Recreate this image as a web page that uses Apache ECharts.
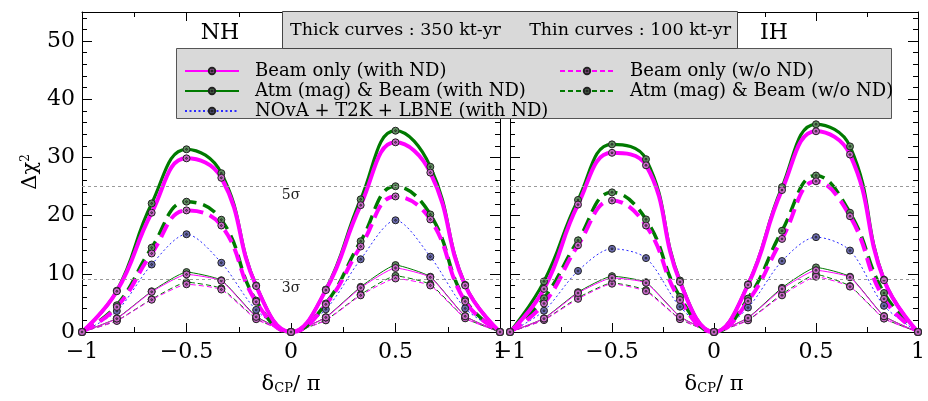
<!DOCTYPE html>
<html><head><meta charset="utf-8">
<script src="https://cdn.jsdelivr.net/npm/echarts@6/dist/echarts.min.js"></script>
<style>html,body{margin:0;padding:0;background:#fff}#c{width:928px;height:401px}</style>
</head><body><div id="c"></div>
<script>
// delta_CP / pi sample points (every pi/6)
const deltaCP = [-1, -5/6, -2/3, -1/2, -1/3, -1/6, 0, 1/6, 1/3, 1/2, 2/3, 5/6, 1];
const xTicks = [-1, -0.5, 0, 0.5, 1];
const yTicks = [0, 10, 20, 30, 40, 50];

// NH panel
const nhBeamND350   = [0, 7.0, 20.5, 29.85, 26.5, 7.9, 0, 7.2, 21.8, 32.6, 27.4, 8.0, 0];
const nhAtmND350    = [0, 7.1, 22.1, 31.4, 27.3, 8.0, 0, 7.3, 22.8, 34.6, 28.4, 8.1, 0];
const nhBeamNoND350 = [0, 4.3, 13.5, 20.9, 18.3, 5.2, 0, 4.75, 14.7, 23.3, 19.35, 5.25, 0];
const nhAtmNoND350  = [0, 4.6, 14.5, 22.4, 19.3, 5.4, 0, 4.9, 15.6, 25.05, 20.2, 5.5, 0];
const nhNova        = [0, 3.6, 11.6, 16.8, 11.9, 3.8, 0, 3.9, 12.5, 19.2, 12.95, 4.05, 0];
const nhBeamND100   = [0, 2.3, 6.9, 9.9, 8.8, 2.6, 0, 2.5, 7.6, 11.0, 9.4, 2.7, 0];
const nhAtmND100    = [0, 2.35, 7.0, 10.3, 8.9, 2.7, 0, 2.55, 7.76, 11.5, 9.5, 2.75, 0];
const nhBeamNoND100 = [0, 1.9, 5.55, 8.2, 7.3, 2.2, 0, 2.0, 6.3, 9.2, 8.0, 2.35, 0];
const nhAtmNoND100  = [0, 1.95, 5.65, 8.56, 7.5, 2.3, 0, 2.05, 6.45, 9.65, 8.2, 2.4, 0];

// IH panel
const ihBeamND350   = [0, 7.4, 21.9, 30.8, 28.65, 8.6, 0, 8.1, 24.4, 34.5, 30.5, 8.9, 0];
const ihAtmND350    = [0, 8.7, 22.7, 32.25, 29.7, 8.85, 0, 8.2, 24.9, 35.7, 31.9, 9.0, 0];
const ihBeamNoND350 = [0, 4.9, 14.9, 22.6, 18.3, 5.5, 0, 5.3, 16.0, 25.9, 19.9, 5.7, 0];
const ihAtmNoND350  = [0, 5.8, 15.75, 24.0, 19.35, 6.05, 0, 5.75, 17.4, 26.9, 20.5, 6.7, 0];
const ihNova        = [0, 3.65, 10.5, 14.3, 12.7, 4.35, 0, 4.2, 12.2, 16.3, 14.0, 4.5, 0];
const ihBeamND100   = [0, 2.3, 6.7, 9.3, 8.45, 2.6, 0, 2.4, 7.4, 10.6, 9.4, 2.7, 0];
const ihAtmND100    = [0, 2.35, 6.85, 9.6, 8.55, 2.65, 0, 2.45, 7.6, 11.1, 9.5, 2.75, 0];
const ihBeamNoND100 = [0, 2.05, 5.7, 8.3, 7.0, 2.2, 0, 2.0, 6.3, 9.5, 7.8, 2.3, 0];
const ihAtmNoND100  = [0, 2.1, 5.9, 8.45, 7.2, 2.25, 0, 2.05, 6.5, 9.9, 7.9, 2.35, 0];

const sigmaLines = [25, 9];
const sigmaLabels = ['5σ', '3σ'];

const FONT = "'DejaVu Serif', serif";
const MAG = '#ff00ff', GRN = '#007a00', BLU = '#2a2aff';
const MAGM = '#c868c8', GRNM = '#5f8f5f', BLUM = '#6a6aae';
const SYM = 'path://M10,0A10,10,0,1,1,-10,0A10,10,0,1,1,10,0ZM2.5,0A2.5,2.5,0,1,1,-2.5,0A2.5,2.5,0,1,1,2.5,0Z';

function pts(v) { return deltaCP.map((x, i) => [x, v[i]]); }
function mk(name, vals, g, color, mcol, width, type, smooth) {
  return {
    name: name, type: 'line', xAxisIndex: g * 2, yAxisIndex: g * 2,
    data: pts(vals), smooth: smooth, showSymbol: true, symbol: SYM, symbolSize: 7,
    lineStyle: { color: color, width: width, type: type },
    itemStyle: { color: mcol, borderColor: '#222', borderWidth: 1 },
    emphasis: { disabled: true }, animation: false, z: 3
  };
}
const L1 = 'Beam only (with ND)', L2 = 'Atm (mag) & Beam (with ND)', L3 = 'NOvA + T2K + LBNE (with ND)';
const L4 = 'Beam only (w/o ND)', L5 = 'Atm (mag) & Beam (w/o ND)';

function panel(g, d) {
  const s = [
    mk(L5, d[8], g, GRN, GRNM, 1, [5, 3], 0.15),
    mk(L4, d[7], g, MAG, MAGM, 1, [5, 3], 0.15),
    mk(L2, d[6], g, GRN, GRNM, 1, 'solid', 0.15),
    mk(L1, d[5], g, MAG, MAGM, 1, 'solid', 0.15),
    mk(L3, d[4], g, BLU, BLUM, 1, [2, 2.5], 0.3),
    mk(L5 + ' 350', d[3], g, GRN, GRNM, 3.5, [14, 7], 0.45),
    mk(L4 + ' 350', d[2], g, MAG, MAGM, 4, [14, 7], 0.45),
    mk(L2 + ' 350', d[1], g, GRN, GRNM, 3.2, 'solid', 0.45),
    mk(L1 + ' 350', d[0], g, MAG, MAGM, 4, 'solid', 0.45)
  ];
  s[0].markLine = {
    silent: true, symbol: 'none', animation: false,
    lineStyle: { color: '#9a9a9a', type: [3, 3], width: 1 },
    label: { show: g === 0, position: 'insideMiddleBottom', fontFamily: FONT, fontSize: 14, color: '#222', distance: 2 },
    data: sigmaLines.map((v, i) => ({ yAxis: v, label: { formatter: sigmaLabels[i] } }))
  };
  return s;
}

const series = panel(0, [nhBeamND350, nhAtmND350, nhBeamNoND350, nhAtmNoND350, nhNova, nhBeamND100, nhAtmND100, nhBeamNoND100, nhAtmNoND100])
  .concat(panel(1, [ihBeamND350, ihAtmND350, ihBeamNoND350, ihAtmNoND350, ihNova, ihBeamND100, ihAtmND100, ihBeamNoND100, ihAtmNoND100]));

const fmtX = v => (v < 0 ? '−' + (-v) : String(v));
function xAx(g, pos) {
  return {
    type: 'value', gridIndex: g, position: pos, min: xTicks[0], max: xTicks[xTicks.length - 1], interval: 0.5,
    axisLine: { show: true, onZero: false, lineStyle: { color: '#000', width: 1 } },
    axisTick: { show: true, inside: true, length: 9, lineStyle: { color: '#000' } },
    minorTick: { show: true, splitNumber: 2, length: 5, lineStyle: { color: '#000' } },
    axisLabel: { show: pos === 'bottom', formatter: fmtX, fontFamily: FONT, fontSize: 22, color: '#000', margin: 9 },
    splitLine: { show: false },
    name: pos === 'bottom' ? '{d|δ}{s|CP}{d|/ π}' : '', nameLocation: 'middle', nameGap: 42,
    nameTextStyle: { rich: { d: { fontFamily: FONT, fontSize: 21, color: '#000' }, s: { fontFamily: FONT, fontSize: 13, color: '#000', verticalAlign: 'bottom', padding: [8, 0, 0, 0] } } }
  };
}
function yAx(g, pos) {
  return {
    type: 'value', gridIndex: g, position: pos, min: yTicks[0], max: 55, interval: 10,
    axisLine: { show: true, onZero: false, lineStyle: { color: '#000', width: 1 } },
    axisTick: { show: true, inside: true, length: 10, lineStyle: { color: '#000' } },
    minorTick: { show: true, splitNumber: 5, length: 5, lineStyle: { color: '#000' } },
    axisLabel: { show: g === 0 && pos === 'left', fontFamily: FONT, fontSize: 22, color: '#000', margin: 7,
                 formatter: v => (yTicks.indexOf(v) >= 0 ? String(v) : '') },
    splitLine: { show: false },
    name: (g === 0 && pos === 'left') ? '{d|Δχ}{s|2}' : '', nameLocation: 'middle', nameGap: 40, nameRotate: 90,
    nameTextStyle: { rich: { d: { fontFamily: FONT, fontSize: 21, color: '#000' }, s: { fontFamily: FONT, fontSize: 12, color: '#000', padding: [0, 0, 10, 0] } } }
  };
}

const option = {
  backgroundColor: '#fff',
  animation: false,
  grid: [
    { left: 82, top: 12, width: 418, bottom: 69 },
    { left: 510, top: 12, width: 417, bottom: 69 }
  ],
  xAxis: [xAx(0, 'bottom'), xAx(0, 'top'), xAx(1, 'bottom'), xAx(1, 'top')],
  yAxis: [yAx(0, 'left'), yAx(0, 'right'), yAx(1, 'left'), yAx(1, 'right')],
  legend: [
    { data: [L1, L2, L3], orient: 'vertical', left: 179, top: 57, itemWidth: 54, itemHeight: 8, itemGap: 2,
      textStyle: { fontFamily: FONT, fontSize: 18, color: '#000', padding: [0, 0, 0, 11] }, z: 200, selectedMode: false },
    { data: [L4, L5], orient: 'vertical', left: 554, top: 57, itemWidth: 54, itemHeight: 8, itemGap: 2,
      textStyle: { fontFamily: FONT, fontSize: 18, color: '#000', padding: [0, 0, 0, 11] }, z: 200, selectedMode: false }
  ],
  graphic: [
    { type: 'rect', z: 100, shape: { x: 176.5, y: 48.5, width: 715, height: 70 }, style: { fill: '#d9d9d9', stroke: '#555', lineWidth: 1 } },
    { type: 'rect', z: 100, shape: { x: 282.5, y: 11.5, width: 455, height: 37 }, style: { fill: '#d9d9d9', stroke: '#444', lineWidth: 1 } },
    { type: 'text', z: 101, style: { x: 290, y: 30, text: 'Thick curves : 350 kt-yr', font: "17.5px 'DejaVu Serif'", fill: '#000', verticalAlign: 'middle' } },
    { type: 'text', z: 101, style: { x: 731, y: 30, text: 'Thin curves : 100 kt-yr', font: "17.5px 'DejaVu Serif'", fill: '#000', verticalAlign: 'middle', align: 'right' } },
    { type: 'text', z: 101, style: { x: 220, y: 33, text: 'NH', font: "22px 'DejaVu Serif'", fill: '#000', verticalAlign: 'middle', align: 'center' } },
    { type: 'text', z: 101, style: { x: 774, y: 33, text: 'IH', font: "22px 'DejaVu Serif'", fill: '#000', verticalAlign: 'middle', align: 'center' } }
  ],
  series: series
};
const chart = echarts.init(document.getElementById('c'), null, { renderer: 'canvas' });
chart.setOption(option);
</script>
</body></html>
